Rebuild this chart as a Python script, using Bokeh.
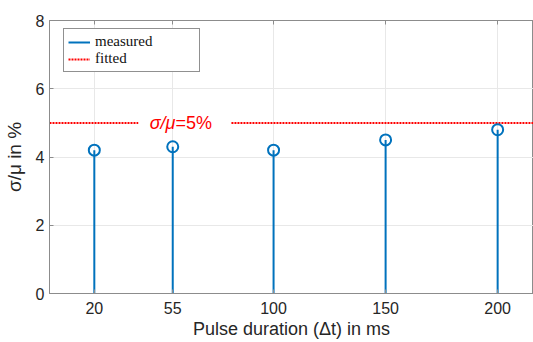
from bokeh.plotting import figure
from bokeh.models import (Range1d, FixedTicker, Label, Legend, LegendItem, Title,
                          LinearAxis, CustomJSTickFormatter)
from bokeh.embed import file_html
from bokeh.resources import INLINE

# data
durations = [20, 55, 100, 150, 200]
ratio_pct = [4.2, 4.3, 4.2, 4.5, 4.8]
fit_level = 5
y_ticks = [0, 2, 4, 6, 8]

BLUE = "#0072BD"
RED = "#FF0000"
AX = "#8c8c8c"
TXT = "#262626"
SANS = "Liberation Sans"

p = figure(width=533, height=342, output_backend="svg", toolbar_location=None,
           x_range=Range1d(0, 216), y_range=Range1d(0, 8),
           min_border_left=49, min_border_right=0, min_border_top=20, min_border_bottom=49)
p.outline_line_color = AX
p.outline_line_width = 1
p.background_fill_color = "white"
p.border_fill_color = "white"

# axes
p.xaxis.ticker = FixedTicker(ticks=durations)
p.yaxis.ticker = FixedTicker(ticks=y_ticks)
for ax in (p.xaxis[0], p.yaxis[0]):
    ax.axis_line_color = AX
    ax.major_tick_line_color = AX
    ax.major_tick_in = 4
    ax.major_tick_out = 0
    ax.minor_tick_line_color = None
    ax.major_label_text_font = SANS
    ax.major_label_text_font_size = "16px"
    ax.major_label_text_color = TXT
    ax.axis_label_text_font = SANS
    ax.axis_label_text_font_size = "19px"
    ax.axis_label_text_font_style = "normal"
    ax.axis_label_text_color = TXT
p.xaxis.major_label_standoff = 8
p.yaxis.major_label_standoff = 5
p.yaxis.axis_label = "σ/μ in %"
p.yaxis.axis_label_standoff = 8

# mirrored ticks on top (box on)
top_ax = LinearAxis(ticker=FixedTicker(ticks=durations),
                    formatter=CustomJSTickFormatter(code="return ''"),
                    axis_line_color=AX, major_tick_line_color=AX,
                    major_tick_in=4, major_tick_out=0, minor_tick_line_color=None,
                    major_label_standoff=0)
p.add_layout(top_ax, "above")

p.xgrid.ticker = FixedTicker(ticks=durations)
p.ygrid.ticker = FixedTicker(ticks=y_ticks)
p.grid.grid_line_color = "#e8e8e8"
p.grid.grid_line_width = 1

# fitted level line with gap for the annotation
gap_l, gap_r = 39.6, 81.2
r_fit = p.segment(x0=[0, gap_r], y0=[fit_level, fit_level], x1=[gap_l, 216], y1=[fit_level, fit_level],
                  line_color=RED, line_width=2, line_dash="2 1")

# stems
r_stem = p.segment(x0=durations, y0=[0] * len(durations), x1=durations, y1=ratio_pct,
                   line_color=BLUE, line_width=2)
p.scatter(durations, ratio_pct, marker="circle", size=11, fill_color=None,
          line_color=BLUE, line_width=2)

# annotation
split_x = 56.2
p.add_layout(Label(x=split_x, y=fit_level, text="σ/μ", text_align="right", text_baseline="middle",
                   text_font=SANS, text_font_size="18px", text_font_style="italic", text_color=RED))
p.add_layout(Label(x=split_x, y=fit_level, text="=5%", text_align="left", text_baseline="middle",
                   text_font=SANS, text_font_size="18px", text_color=RED))

# x axis label (centred a little right of the frame centre, as in the reference)
xlab = Title(text="Pulse duration (Δt) in ms", align="center", offset=14, standoff=0,
             text_font=SANS, text_font_size="18px", text_font_style="normal", text_color=TXT)
p.add_layout(xlab, "below")

legend = Legend(items=[LegendItem(label="measured", renderers=[r_stem]),
                       LegendItem(label="fitted", renderers=[r_fit])],
                location=(14, 221), orientation="vertical")
legend.label_text_font = "Liberation Serif"
legend.label_text_font_size = "15px"
legend.label_text_color = "#111111"
legend.glyph_width = 22
legend.glyph_height = 16
legend.label_height = 16
legend.label_width = 100
legend.label_standoff = 5
legend.spacing = 0
legend.padding = 4
legend.margin = 0
legend.border_line_color = "#222222"
legend.border_line_width = 1.3
legend.background_fill_alpha = 1
p.add_layout(legend, "center")

open("out.html", "w").write(file_html(p, INLINE))
